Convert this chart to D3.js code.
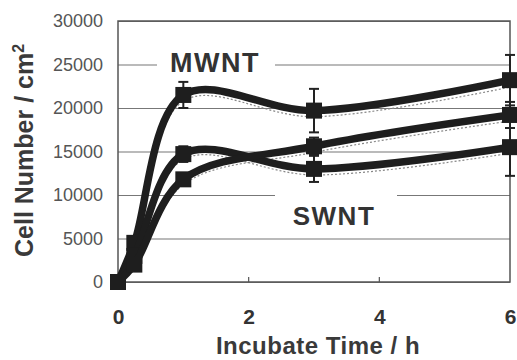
<!DOCTYPE html>
<html>
<head>
<meta charset="utf-8">
<script src="https://cdn.jsdelivr.net/npm/d3@7"></script>
<style>
  body { margin: 0; background: #fff; }
  svg { display: block; font-family: "Liberation Sans", Arial, sans-serif; }
</style>
</head>
<body>
<div id="chart"></div>
<script>
const width = 517, height = 360;

// data
const times = [0, 0.25, 1, 3, 6];
const mwnt = [0, 4500, 21500, 19700, 23200];
const mwntErr = [300, 600, 1500, 2500, 2900];
const swntA = [0, 3000, 14700, 13000, 15500];
const swntAErr = [200, 500, 900, 1500, 3300];
const swntB = [0, 2000, 11800, 15600, 19200];
const swntBErr = [200, 400, 600, 1000, 1500];
// faint dotted companion lines under each curve
const mwntDot = [0, 4000, 20800, 19000, 22400];
const swntADot = [0, 2500, 14100, 12300, 14800];
const swntBDot = [0, 1500, 11200, 14900, 18500];

const yTicks = [0, 5000, 10000, 15000, 20000, 25000, 30000];
const xTicks = [0, 2, 4, 6];

const x = d3.scaleLinear().domain([0, 6]).range([118, 510]);
const y = d3.scaleLinear().domain([0, 30000]).range([282, 21]);

const svg = d3.select('#chart').append('svg')
    .attr('width', width).attr('height', height);

// gridlines + y tick labels
const yAxis = svg.append('g')
    .attr('transform', 'translate(118,0)')
    .call(d3.axisLeft(y).tickValues(yTicks).tickSize(-392).tickPadding(15).tickFormat(d3.format('d')));
yAxis.select('.domain').remove();
yAxis.selectAll('.tick line').attr('stroke', '#777').attr('stroke-width', 1.2);
yAxis.selectAll('.tick text')
    .attr('fill', '#555').style('font-size', '18px');

// plot frame
svg.append('rect')
    .attr('x', x(0)).attr('y', y(30000))
    .attr('width', x(6) - x(0)).attr('height', y(0) - y(30000))
    .attr('fill', 'none').attr('stroke', '#555').attr('stroke-width', 1.5);

// small ticks on bottom axis
svg.append('g').selectAll('line')
    .data([2, 4])
    .enter().append('line')
    .attr('x1', d => x(d)).attr('x2', d => x(d))
    .attr('y1', y(0)).attr('y2', y(0) - 5)
    .attr('stroke', '#555').attr('stroke-width', 1.2);

// x tick labels
const xAxis = svg.append('g')
    .attr('transform', 'translate(0,282)')
    .call(d3.axisBottom(x).tickValues(xTicks).tickSize(0).tickPadding(27).tickFormat(d3.format('d')));
xAxis.select('.domain').remove();
xAxis.selectAll('.tick text')
    .attr('fill', '#333').style('font-size', '21px').style('font-weight', 'bold');

// label boxes breaking the gridlines
svg.append('rect').attr('x', 157).attr('y', 46).attr('width', 118).attr('height', 36).attr('fill', '#fff');
svg.append('rect').attr('x', 275).attr('y', 188).attr('width', 122).attr('height', 44).attr('fill', '#fff');

svg.append('text')
    .attr('x', 215).attr('y', 72)
    .attr('text-anchor', 'middle')
    .style('font-size', '27px').style('font-weight', 'bold').style('letter-spacing', '1.5px')
    .attr('fill', '#333')
    .text('MWNT');
svg.append('text')
    .attr('x', 334).attr('y', 225)
    .attr('text-anchor', 'middle')
    .style('font-size', '26px').style('font-weight', 'bold').style('letter-spacing', '1.5px')
    .attr('fill', '#333')
    .text('SWNT');

// axis titles
svg.append('text')
    .attr('x', 318).attr('y', 354)
    .attr('text-anchor', 'middle')
    .style('font-size', '24px').style('font-weight', 'bold').style('letter-spacing', '0.5px')
    .attr('fill', '#3a3a3a')
    .text('Incubate Time / h');

const yTitle = svg.append('text')
    .attr('transform', 'translate(33,257) rotate(-90)')
    .style('font-size', '25px').style('font-weight', 'bold')
    .attr('fill', '#3a3a3a');
yTitle.append('tspan').text('Cell Number / cm');
yTitle.append('tspan').attr('dy', -9).style('font-size', '16px').text('2');

const line = d3.line()
    .curve(d3.curveCatmullRom)
    .x((d, i) => x(times[i]))
    .y(d => y(d));

// dotted companions
[mwntDot, swntADot, swntBDot].forEach(s => {
  svg.append('path')
      .attr('d', line(s))
      .attr('fill', 'none')
      .attr('stroke', '#888')
      .attr('stroke-width', 1.2)
      .attr('stroke-dasharray', '2,2');
});

const series = [
  {vals: mwnt, err: mwntErr},
  {vals: swntA, err: swntAErr},
  {vals: swntB, err: swntBErr}
];

series.forEach(s => {
  svg.append('path')
      .attr('d', line(s.vals))
      .attr('fill', 'none')
      .attr('stroke', '#1e1e1e')
      .attr('stroke-width', 7.5)
      .attr('stroke-linejoin', 'round');

  const g = svg.append('g');
  const pts = s.vals.map((v, i) => ({t: times[i], v: v, e: s.err[i]}));

  g.selectAll('.eb').data(pts).enter().append('line')
      .attr('x1', d => x(d.t)).attr('x2', d => x(d.t))
      .attr('y1', d => y(d.v + d.e)).attr('y2', d => y(d.v - d.e))
      .attr('stroke', '#222').attr('stroke-width', 2);
  g.selectAll('.capT').data(pts).enter().append('line')
      .attr('x1', d => x(d.t) - 5).attr('x2', d => x(d.t) + 5)
      .attr('y1', d => y(d.v + d.e)).attr('y2', d => y(d.v + d.e))
      .attr('stroke', '#222').attr('stroke-width', 2);
  g.selectAll('.capB').data(pts).enter().append('line')
      .attr('x1', d => x(d.t) - 5).attr('x2', d => x(d.t) + 5)
      .attr('y1', d => y(d.v - d.e)).attr('y2', d => y(d.v - d.e))
      .attr('stroke', '#222').attr('stroke-width', 2);
  g.selectAll('rect').data(pts).enter().append('rect')
      .attr('x', d => x(d.t) - 8).attr('y', d => y(d.v) - 8)
      .attr('width', 16).attr('height', 16)
      .attr('fill', '#1e1e1e');
});
</script>
</body>
</html>
